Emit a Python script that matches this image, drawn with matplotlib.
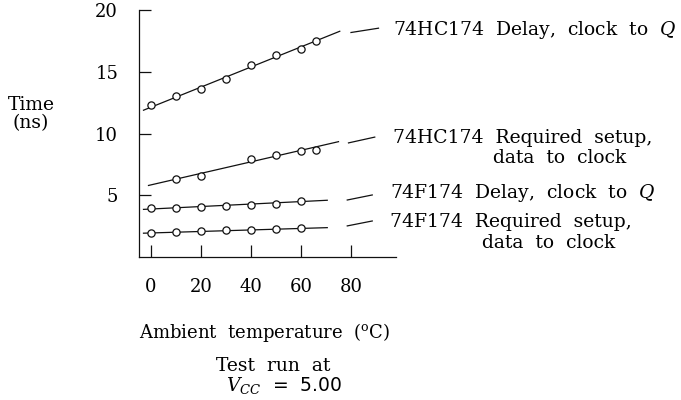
import matplotlib
matplotlib.use("Agg")
import matplotlib.pyplot as plt

plt.rcParams["font.family"] = "DejaVu Serif"
plt.rcParams["mathtext.fontset"] = "dejavuserif"

INK = "#111111"

# ── Measured points (ambient temperature °C, time ns) ───────────────────────
hc_delay_t = [0, 10, 20, 30, 40, 50, 60, 66]
hc_delay_ns = [12.3, 13.05, 13.6, 14.45, 15.6, 16.35, 16.85, 17.5]

hc_setup_t = [10, 20, 40, 50, 60, 66]
hc_setup_ns = [6.35, 6.6, 7.95, 8.3, 8.6, 8.7]

f_delay_t = [0, 10, 20, 30, 40, 50, 60]
f_delay_ns = [3.95, 4.0, 4.05, 4.15, 4.2, 4.3, 4.55]

f_setup_t = [0, 10, 20, 30, 40, 50, 60]
f_setup_ns = [1.98, 2.05, 2.1, 2.15, 2.22, 2.28, 2.32]

# fitted trend lines (end points)
hc_delay_fit_t, hc_delay_fit_ns = [-3, 75.5], [11.9, 18.3]
hc_setup_fit_t, hc_setup_fit_ns = [-1, 75], [5.8, 9.35]
f_delay_fit_t, f_delay_fit_ns = [-3, 70.5], [3.86, 4.6]
f_setup_fit_t, f_setup_fit_ns = [-3, 70.5], [1.93, 2.38]

# extrapolated leader segments toward the labels
hc_delay_lead_t, hc_delay_lead_ns = [80, 91], [18.2, 18.55]
hc_setup_lead_t, hc_setup_lead_ns = [79, 89.5], [9.25, 9.72]
f_delay_lead_t, f_delay_lead_ns = [78.5, 88.5], [4.62, 5.03]
f_setup_lead_t, f_setup_lead_ns = [78.5, 88.5], [2.52, 2.92]

x_ticks = [0, 20, 40, 60, 80]
y_ticks = [5, 10, 15, 20]

series = [
    (hc_delay_t, hc_delay_ns, hc_delay_fit_t, hc_delay_fit_ns, hc_delay_lead_t, hc_delay_lead_ns),
    (hc_setup_t, hc_setup_ns, hc_setup_fit_t, hc_setup_fit_ns, hc_setup_lead_t, hc_setup_lead_ns),
    (f_delay_t, f_delay_ns, f_delay_fit_t, f_delay_fit_ns, f_delay_lead_t, f_delay_lead_ns),
    (f_setup_t, f_setup_ns, f_setup_fit_t, f_setup_fit_ns, f_setup_lead_t, f_setup_lead_ns),
]

fig = plt.figure(figsize=(6.81, 4.0), dpi=100)
ax = fig.add_axes([139 / 681, 143 / 400, 257 / 681, 246.7 / 400])

for t, ns, ft, fns, lt, lns in series:
    ax.plot(ft, fns, color=INK, linewidth=0.9)
    ax.plot(lt, lns, color=INK, linewidth=0.9, clip_on=False)
    ax.plot(t, ns, linestyle="none", marker="o", markersize=5.2,
            markerfacecolor="white", markeredgecolor=INK, markeredgewidth=0.9)

ax.set_xlim(-4.8, 98)
ax.set_ylim(0, 20)
ax.spines["top"].set_visible(False)
ax.spines["right"].set_visible(False)
for s in ("left", "bottom"):
    ax.spines[s].set_linewidth(0.9)
    ax.spines[s].set_color(INK)

ax.set_xticks(x_ticks)
ax.set_yticks(y_ticks)
ax.tick_params(axis="both", direction="in", length=8.5, width=0.9, color=INK,
               labelsize=13)
ax.tick_params(axis="x", pad=15)
ax.tick_params(axis="y", pad=15)

# ── Curve labels ─────────────────────────────────────────────────────────────
FS = 13.5
lab = dict(fontsize=FS, va="center", ha="left")
fig.text(393 / 681, 1 - 30 / 400, r"74HC174  Delay,  clock  to  $\mathit{Q}$", **lab)
fig.text(393 / 681, 1 - 138 / 400, "74HC174  Required  setup,", **lab)
fig.text(493 / 681, 1 - 158 / 400, "data  to  clock", **lab)
fig.text(390 / 681, 1 - 193 / 400, r"74F174  Delay,  clock  to  $\mathit{Q}$", **lab)
fig.text(390 / 681, 1 - 222 / 400, "74F174  Required  setup,", **lab)
fig.text(482 / 681, 1 - 243 / 400, "data  to  clock", **lab)

# ── Axis captions ────────────────────────────────────────────────────────────
fig.text(31 / 681, 1 - 114 / 400, "Time\n(ns)", fontsize=FS, ha="center",
         va="center", linespacing=1.0)
fig.text(265 / 681, 1 - 332 / 400,
         r"Ambient  temperature  ($^{\mathrm{o}}$C)", fontsize=13,
         ha="center", va="center")
fig.text(273 / 681, 1 - 366 / 400, "Test  run  at", fontsize=FS,
         ha="center", va="center")
fig.text(284 / 681, 1 - 385 / 400, r"$V_{CC}$  =  5.00", fontsize=FS,
         family="DejaVu Sans", ha="center", va="center")

fig.savefig("out.png", dpi=100)
